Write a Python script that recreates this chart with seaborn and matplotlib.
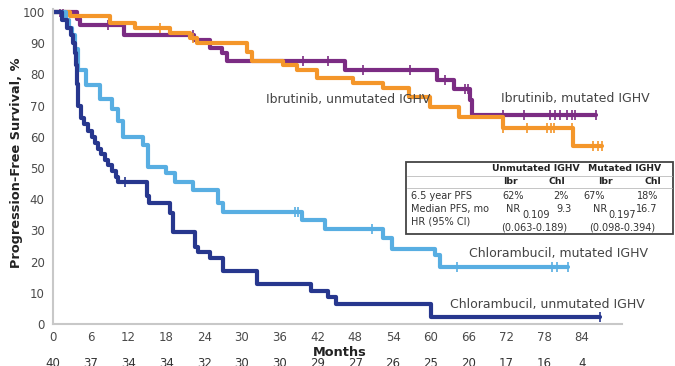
import numpy as np
import pandas as pd
import matplotlib
matplotlib.use("Agg")
import matplotlib.pyplot as plt
import matplotlib.transforms as mtrans
from matplotlib.patches import Rectangle
import seaborn as sns

# ---- Kaplan-Meier step data: event times (months) and PFS (%) after each step ----
ibr_mut_t = [0, 3.8, 4.3, 11.2, 22.4, 24.9, 26.8, 27.6, 46.3, 60.9, 63.6, 66.2, 66.6]
ibr_mut_s = [100, 97.9, 95.8, 92.6, 91.0, 88.4, 86.8, 84.3, 81.4, 78.2, 75.2, 71.8, 67.0]
ibr_mut_end = 86.3
ibr_mut_cens = [1.1, 1.6, 8.8, 22.3, 39.7, 43.7, 49.3, 56.7, 62.2, 65.4, 65.9,
                71.5, 74.8, 78.9, 79.7, 80.5, 81.6, 82.4, 82.9, 86.3]

ibr_unmut_t = [0, 2.7, 9.0, 13.0, 18.6, 21.7, 22.8, 30.8, 31.6, 36.6, 38.7, 41.9,
               47.7, 52.4, 56.6, 59.9, 64.4, 71.4, 82.5]
ibr_unmut_s = [100, 98.7, 96.4, 94.8, 93.2, 91.6, 90.2, 87.3, 84.4, 83.0, 81.4, 78.7,
               77.2, 75.5, 72.9, 69.4, 66.2, 62.7, 57.2]
ibr_unmut_end = 87.2
ibr_unmut_cens = [17.0, 22.3, 71.5, 75.2, 78.4, 79.0, 79.6, 82.4, 85.8, 86.5, 87.2]

chl_mut_t = [0, 2.0, 2.6, 3.0, 3.5, 4.0, 5.3, 7.5, 9.3, 10.3, 11.1, 14.3, 15.1,
             18.0, 19.4, 22.3, 26.2, 27.0, 39.5, 43.2, 52.4, 53.8, 60.6, 61.4]
chl_mut_s = [100, 97.5, 95.0, 92.5, 88.0, 81.4, 76.5, 72.0, 69.0, 65.0, 60.0, 57.4, 50.4,
             48.3, 45.6, 43.0, 38.8, 36.0, 33.3, 30.3, 27.5, 24.2, 22.0, 18.2]
chl_mut_end = 81.8
chl_mut_cens = [38.4, 38.9, 50.6, 64.1, 79.3, 80.1, 81.8]

chl_unmut_t = [0, 1.5, 2.2, 2.8, 3.2, 3.5, 3.7, 3.85, 4.0, 4.5, 5.0, 5.6, 6.2, 6.7,
               7.2, 7.7, 8.3, 8.8, 9.4, 10.0, 10.4, 14.9, 15.3, 18.6, 19.1, 22.5, 23.1,
               24.9, 27.0, 32.4, 41.0, 43.6, 45.0, 60.1]
chl_unmut_s = [100, 97.5, 95.0, 92.5, 90.0, 87.0, 83.0, 77.0, 70.0, 66.0, 64.0, 62.0,
               60.0, 58.0, 56.0, 54.5, 52.5, 51.0, 49.0, 47.0, 45.5, 41.0, 38.8, 35.5,
               29.6, 24.8, 23.2, 21.0, 17.0, 12.7, 10.7, 8.8, 6.4, 2.4]
chl_unmut_end = 86.8
chl_unmut_cens = [11.4, 86.8]

x_ticks = [0, 6, 12, 18, 24, 30, 36, 42, 48, 54, 60, 66, 72, 78, 84]
y_ticks = [0, 10, 20, 30, 40, 50, 60, 70, 80, 90, 100]
at_risk = [40, 37, 34, 34, 32, 30, 30, 29, 27, 26, 25, 20, 17, 16, 4]

series = [
    ("Ibrutinib, mutated IGHV", ibr_mut_t, ibr_mut_s, ibr_mut_end, ibr_mut_cens, "#7B2C83"),
    ("Ibrutinib, unmutated IGHV", ibr_unmut_t, ibr_unmut_s, ibr_unmut_end, ibr_unmut_cens, "#F4962A"),
    ("Chlorambucil, mutated IGHV", chl_mut_t, chl_mut_s, chl_mut_end, chl_mut_cens, "#58AEE2"),
    ("Chlorambucil, unmutated IGHV", chl_unmut_t, chl_unmut_s, chl_unmut_end, chl_unmut_cens, "#27378E"),
]

sns.set_theme(style="white")
plt.rcParams["font.family"] = ["DejaVu Sans"]

W, H = 675, 366
fig = plt.figure(figsize=(W / 100, H / 100), dpi=100)
ax = fig.add_axes([53 / W, 1 - 324 / H, (622 - 53) / W, 315.1 / H])

for name, t, s, end, cens, col in series:
    df = pd.DataFrame({"t": list(t) + [end], "s": list(s) + [s[-1]]})
    sns.lineplot(data=df, x="t", y="s", ax=ax, color=col, linewidth=3.0,
                 drawstyle="steps-post", estimator=None, sort=False, legend=False)
    ta = np.asarray(t)
    sa = np.asarray(s)
    cy = [sa[np.searchsorted(ta, c, side="right") - 1] for c in cens]
    ax.plot(cens, cy, linestyle="none", marker="|", markersize=7, mew=1.2, color=col)

ax.set_xlim(0, 90.35)
ax.set_ylim(0, 101)
ax.set_xticks(x_ticks)
ax.set_yticks(y_ticks)
ax.set_xlabel("")
ax.set_ylabel("")
ax.tick_params(axis="both", labelsize=8.5, labelcolor="#4A4A4A", color="#AAAAAA",
               length=3, width=0.8, direction="out", pad=3)
ax.tick_params(axis="x", pad=2)
for side in ("top", "right"):
    ax.spines[side].set_visible(False)
for side in ("left", "bottom"):
    ax.spines[side].set_color("#C8C8C8")
    ax.spines[side].set_linewidth(1.5)

# curve labels
lab_kw = dict(fontsize=9, color="#444444", va="center", ha="left")
ax.text(33.9, 72.1, "Ibrutinib, unmutated IGHV", **lab_kw)
ax.text(71.2, 72.3, "Ibrutinib, mutated IGHV", **lab_kw)
ax.text(66.0, 22.7, "Chlorambucil, mutated IGHV", **lab_kw)
ax.text(63.1, 6.1, "Chlorambucil, unmutated IGHV", **lab_kw)

# axis titles
fig.text(17 / W, 1 - 163 / H, "Progression-Free Survival, %", rotation=90,
         fontsize=9.3, fontweight="bold", color="#222222", ha="center", va="center")
fig.text(340 / W, 1 - 352 / H, "Months", fontsize=9.3, fontweight="bold",
         color="#222222", ha="center", va="center")

# number at risk row
blend = mtrans.blended_transform_factory(ax.transData, fig.transFigure)
for x, n in zip(x_ticks, at_risk):
    ax.text(x, 1 - 357 / H, str(n), transform=blend, fontsize=8.5, color="#333333",
            ha="center", va="top", clip_on=False)

# summary table
def px(x, y):
    return x / W, 1 - y / H

box = Rectangle(px(406, 234), (673 - 406) / W, (234 - 162) / H, transform=fig.transFigure,
                facecolor="white", edgecolor="#444444", linewidth=1.3, zorder=5)
fig.add_artist(box)
for yl in (176, 188):
    fig.add_artist(plt.Line2D([407 / W, 672 / W], [1 - yl / H] * 2, transform=fig.transFigure,
                              color="#BBBBBB", linewidth=0.6, zorder=6))

tkw = dict(fontsize=7, color="#333333", va="center", zorder=7)
bkw = dict(fontsize=6.7, color="#222222", va="center", fontweight="bold", zorder=7)
fig.text(*px(536, 168.5), "Unmutated IGHV", ha="center", **bkw)
fig.text(*px(625, 168.5), "Mutated IGHV", ha="center", **bkw)
for xc, s in zip([510, 557, 605, 653], ["Ibr", "Chl", "Ibr", "Chl"]):
    fig.text(*px(xc, 182), s, ha="center", **bkw)

fig.text(*px(411, 196), "6.5 year PFS", ha="left", **tkw)
fig.text(*px(411, 209), "Median PFS, mo", ha="left", **tkw)
fig.text(*px(411, 222), "HR (95% CI)", ha="left", **tkw)

fig.text(*px(513, 196), "62%", ha="center", **tkw)
fig.text(*px(569, 196), "2%", ha="right", **tkw)
fig.text(*px(594, 196), "67%", ha="center", **tkw)
fig.text(*px(648, 196), "18%", ha="center", **tkw)

fig.text(*px(513, 209), "NR", ha="center", **tkw)
fig.text(*px(536, 214.5), "0.109", ha="center", **tkw)
fig.text(*px(564, 209), "9.3", ha="center", **tkw)
fig.text(*px(600, 209), "NR", ha="center", **tkw)
fig.text(*px(622, 214.5), "0.197", ha="center", **tkw)
fig.text(*px(647, 209), "16.7", ha="center", **tkw)

fig.text(*px(534, 228), "(0.063-0.189)", ha="center", **tkw)
fig.text(*px(622.5, 228), "(0.098-0.394)", ha="center", **tkw)

fig.savefig("out.png", dpi=100, facecolor="white")
